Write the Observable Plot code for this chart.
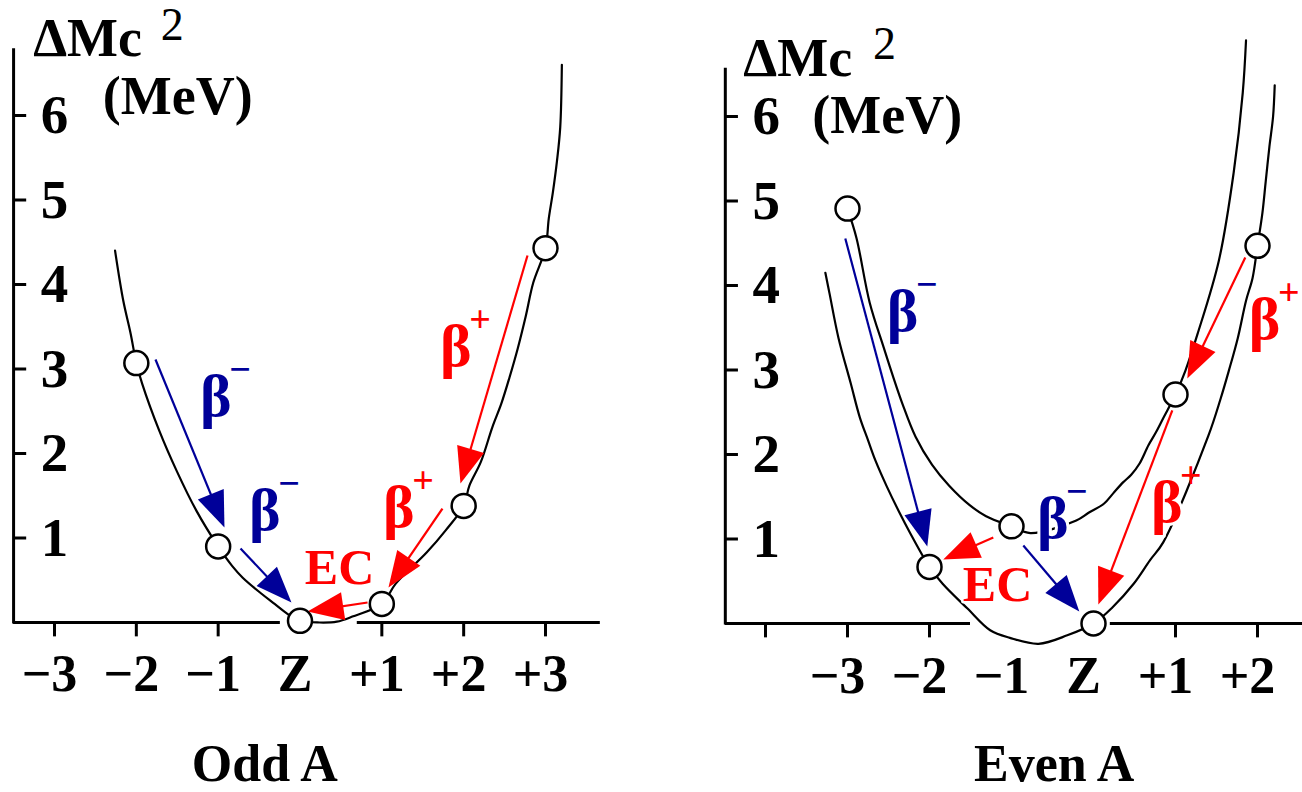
<!DOCTYPE html>
<html>
<head>
<meta charset="utf-8">
<script src="https://cdn.jsdelivr.net/npm/d3@7"></script>
<script src="https://cdn.jsdelivr.net/npm/@observablehq/plot@0.6"></script>
<style>
  html, body { margin: 0; padding: 0; background: #fff; }
  #chart { display: flex; width: 1302px; height: 792px; overflow: hidden; background: #fff; }
  #chart svg { display: block; flex: none; max-width: none; }
  g[aria-label="caption"] text { letter-spacing: 4px; }
  g[aria-label="unit"] text { letter-spacing: 3px; }
  g[aria-label="quantity"] text { letter-spacing: 2px; }
  g[aria-label="ec"] text { letter-spacing: -3px; }
</style>
</head>
<body>
<div id="chart"></div>
<script>
// ---------------- data ----------------
const massTicks = [1, 2, 3, 4, 5, 6];

// Odd A
const oddTickZ = [-3, -2, -1, 1, 2, 3];
const oddTickLabelZ = [-3, -2, -1, 0, 1, 2, 3];
const oddTickLabels = ["−3", "−2", "−1", "Z", "+1", "+2", "+3"];
const oddCircleZ = [-2, -1, 0, 1, 2, 3];
const oddCircleM = [3.07, 0.90, 0.02, 0.22, 1.38, 4.43];
const oddCurveZ = [-2.26, -2.16, -2.07, -2.00, -1.93, -1.72, -1.51, -1.27, -1.00, -0.83, -0.70, -0.47, -0.31, -0.15, 0.00, 0.24, 0.45, 0.64, 1.00, 1.17, 1.55, 1.78, 2.00, 2.07, 2.21, 2.35, 2.46, 2.56, 2.66, 2.76, 2.85, 3.00, 3.04, 3.09, 3.14, 3.18, 3.20];
const oddCurveM = [4.40, 3.81, 3.42, 3.07, 2.83, 2.27, 1.80, 1.33, 0.90, 0.67, 0.53, 0.34, 0.22, 0.10, 0.02, 0.00, 0.01, 0.07, 0.22, 0.46, 0.83, 1.09, 1.38, 1.62, 1.90, 2.31, 2.59, 2.90, 3.24, 3.63, 4.02, 4.43, 4.78, 5.09, 5.46, 5.86, 6.60];
const oddArrowType = ["β−", "β−", "EC", "β+", "β+"];
const oddArrowFromZ = [-1.766, -0.727, 0.825, 1.741, 2.780];
const oddArrowFromM = [3.112, 0.876, 0.237, 1.349, 4.343];
const oddArrowToZ = [-0.923, -0.104, 0.092, 1.081, 1.961];
const oddArrowToM = [1.124, 0.237, 0.130, 0.414, 1.645];
const oddLabelType = ["β−", "β−", "β+", "β+", "EC"];
const oddLabelZ = [-1.222, -0.623, 1.014, 1.711, 0.483];
const oddLabelM = [2.67, 1.32, 1.36, 3.26, 0.45];

// Even A
const evenTickZ = [-4, -3, -2, 1, 2];
const evenTickLabelZ = [-3, -2, -1, 0, 1, 2];
const evenTickLabels = ["−3", "−2", "−1", "Z", "+1", "+2"];
const evenEvenCircleZ = [-2, 0, 2];
const evenEvenCircleM = [0.67, 0.00, 4.47];
const oddOddCircleZ = [-3, -1, 1];
const oddOddCircleM = [4.91, 1.15, 2.71];
const evenEvenCurveZ = [-3.27, -3.22, -3.11, -2.96, -2.85, -2.75, -2.66, -2.52, -2.37, -2.23, -2.00, -1.84, -1.54, -1.26, -1.02, -0.67, -0.32, 0.00, 0.23, 0.49, 0.69, 0.85, 1.40, 1.55, 1.65, 1.76, 1.86, 1.94, 2.00, 2.06, 2.10, 2.145, 2.19, 2.21];
const evenEvenCurveM = [4.15, 3.91, 3.38, 2.84, 2.44, 2.17, 1.93, 1.62, 1.32, 1.06, 0.67, 0.47, 0.18, -0.08, -0.17, -0.24, -0.14, 0.00, 0.19, 0.47, 0.75, 0.96, 2.22, 2.66, 2.99, 3.38, 3.82, 4.09, 4.47, 4.86, 5.23, 5.64, 6.00, 6.37];
const oddOddCurveZ = [-3.00, -2.89, -2.73, -2.56, -2.45, -2.33, -2.17, -1.97, -1.76, -1.51, -1.31, -1.00, -0.77, -0.21, -0.06, 0.13, 0.24, 0.36, 0.46, 0.56, 0.67, 0.76, 0.85, 1.00, 1.12, 1.27, 1.53, 1.71, 1.82, 1.86];
const oddOddCurveM = [4.91, 4.56, 3.80, 3.27, 2.94, 2.60, 2.21, 1.88, 1.63, 1.40, 1.27, 1.15, 1.07, 1.22, 1.31, 1.42, 1.54, 1.67, 1.76, 1.89, 2.11, 2.26, 2.43, 2.71, 2.99, 3.43, 4.30, 5.34, 6.28, 6.90];
const evenArrowType = ["β−", "β−", "EC", "β+", "β+"];
const evenArrowFromZ = [-3.027, -0.856, -1.222, 1.851, 0.961];
const evenArrowFromM = [4.556, 0.923, 1.018, 4.331, 2.521];
const evenArrowToZ = [-2.027, -0.173, -1.832, 1.144, 0.059];
const evenArrowToM = [0.911, 0.142, 0.757, 2.899, 0.225];
const evenLabelType = ["β−", "β−", "β+", "β+", "EC"];
const evenLabelZ = [-2.52, -0.69, 1.893, 0.70, -1.17];
const evenLabelM = [3.69, 1.24, 3.59, 1.43, 0.27];

// ---------------- styling ----------------
const SERIF = "'Liberation Serif', 'DejaVu Serif', 'Times New Roman', serif";
const BLUE = "#000099", RED = "#ff0000";
const decayColor = {"β−": BLUE, "β+": RED, "EC": RED};
const HEAD_L = 36, HEAD_W = 28;
const HEAD = {
  draw(ctx) {
    ctx.moveTo(0, 0);
    ctx.lineTo(-HEAD_W / 2, HEAD_L);
    ctx.lineTo(HEAD_W / 2, HEAD_L);
    ctx.closePath();
  }
};

function buildPanel(cfg) {
  const W = 651, H = 792;
  const sx = d3.scaleLinear(cfg.xDomain, [cfg.ml, W - cfg.mr]);
  const sy = d3.scaleLinear([0, 6], [H - cfg.mb, cfg.mt]);
  const arrows = cfg.arrowType.map((t, i) => {
    const z1 = cfg.arrowFromZ[i], m1 = cfg.arrowFromM[i], z2 = cfg.arrowToZ[i], m2 = cfg.arrowToM[i];
    const px1 = sx(z1), py1 = sy(m1), px2 = sx(z2), py2 = sy(m2);
    const len = Math.hypot(px2 - px1, py2 - py1);
    const ux = (px2 - px1) / len, uy = (py2 - py1) / len;
    return {
      z1, m1, z2, m2,
      lz2: sx.invert(px2 - ux * HEAD_L * 0.5), lm2: sy.invert(py2 - uy * HEAD_L * 0.5),
      angle: Math.atan2(ux, -uy) * 180 / Math.PI,
      col: decayColor[t]
    };
  });
  const circles = cfg.circles.flatMap(c => c.z.map((z, i) => ({z, m: c.m[i]})));
  const curves = cfg.curves.map(c => c.z.map((z, i) => ({z, m: c.m[i]})));
  const labels = cfg.labelType.map((t, i) => ({t, z: cfg.labelZ[i], m: cfg.labelM[i], col: decayColor[t]}));
  const betas = labels.filter(d => d.t !== "EC");
  const ecs = labels.filter(d => d.t === "EC");
  const ticks = cfg.tickLabelZ.map((z, i) => ({z, label: cfg.tickLabels[i]}));
  const txt = {fontFamily: SERIF, fontWeight: "bold"};

  return Plot.plot({
    width: W, height: H,
    marginLeft: cfg.ml, marginRight: cfg.mr, marginTop: cfg.mt, marginBottom: cfg.mb,
    x: {domain: cfg.xDomain, axis: null},
    y: {domain: [0, 6], axis: null},
    color: {type: "identity"},
    style: {background: "white", overflow: "visible", maxWidth: "none"},
    marks: [
      // axes
      Plot.ruleX([cfg.axisZ], {x: d => d, y1: -0.018, y2: cfg.axisTop, stroke: "black", strokeWidth: 3}),
      Plot.ruleY(cfg.baseSegments, {y: 0, x1: "a", x2: "b", stroke: "black", strokeWidth: 3}),
      Plot.ruleY(massTicks, {y: d => d, x1: cfg.axisZ, x2: cfg.axisZ + 0.16, stroke: "black", strokeWidth: 3}),
      Plot.ruleX(cfg.tickZ, {x: d => d, y1: 0, y2: -0.17, stroke: "black", strokeWidth: 3}),
      Plot.text(massTicks, {x: cfg.axisZ + 0.5, y: d => d, text: d => String(d), fontSize: 55, ...txt, fill: "black", textAnchor: "middle", lineAnchor: "middle"}),
      Plot.text(ticks, {x: "z", y: cfg.tickLabelM, text: "label", dx: cfg.tickDx, fontSize: 52, ...txt, fill: "black", textAnchor: "middle", lineAnchor: "bottom"}),
      // mass parabolas
      ...curves.map(c => Plot.line(c, {x: "z", y: "m", curve: "catmull-rom", stroke: "black", strokeWidth: 2.2})),
      // decay labels
      Plot.text(betas, {x: "z", y: "m", text: () => "β", fill: "col", stroke: "white", strokeWidth: 6, fontSize: 60, ...txt, textAnchor: "start", lineAnchor: "middle"}),
      Plot.text(betas, {x: "z", y: "m", text: d => d.t === "β−" ? "−" : "+", dx: 40, dy: -27, fill: "col", fontSize: 38, ...txt, textAnchor: "middle", lineAnchor: "middle"}),
      Plot.text(ecs, {x: "z", y: "m", text: () => "EC", fill: "col", stroke: "white", strokeWidth: 5, fontSize: 50, ...txt, textAnchor: "middle", lineAnchor: "bottom", ariaLabel: "ec"}),
      // decay arrows
      Plot.link(arrows, {x1: "z1", y1: "m1", x2: "lz2", y2: "lm2", stroke: "col", strokeWidth: 2.2}),
      Plot.dot(arrows, {x: "z2", y: "m2", symbol: HEAD, rotate: "angle", fill: "col"}),
      // nuclei
      Plot.dot(circles, {x: "z", y: "m", r: 12, fill: "white", stroke: "black", strokeWidth: 2.5}),
      // titles
      Plot.text(["ΔMc"], {x: cfg.titleZ, y: cfg.titleM, text: d => d, fontSize: 54, ...txt, fill: "black", textAnchor: "start", lineAnchor: "bottom", ariaLabel: "quantity"}),
      Plot.text(["2"], {x: cfg.supZ, y: cfg.supM, text: d => d, fontSize: 46, fontFamily: SERIF, fill: "black", textAnchor: "middle", lineAnchor: "bottom"}),
      Plot.text(["(MeV)"], {x: cfg.unitZ, y: cfg.unitM, text: d => d, fontSize: 54, ...txt, fill: "black", textAnchor: "start", lineAnchor: "bottom", ariaLabel: "unit"}),
      Plot.text([cfg.caption], {x: cfg.captionZ, y: cfg.captionM, text: d => d, fontSize: 52, ...txt, fill: "black", textAnchor: "middle", lineAnchor: "bottom", ariaLabel: "caption"})
    ]
  });
}

const left = buildPanel({
  xDomain: [-3, 3], ml: 54, mr: 106, mt: 115, mb: 170,
  axisZ: -3.50, axisTop: 6.79,
  baseSegments: [{a: -3.50, b: -0.24}, {a: 0.70, b: 3.67}],
  tickZ: oddTickZ, tickLabelZ: oddTickLabelZ, tickLabels: oddTickLabels, tickLabelM: -0.805, tickDx: -5,
  circles: [{z: oddCircleZ, m: oddCircleM}],
  curves: [{z: oddCurveZ, m: oddCurveM}],
  arrowType: oddArrowType, arrowFromZ: oddArrowFromZ, arrowFromM: oddArrowFromM, arrowToZ: oddArrowToZ, arrowToM: oddArrowToM,
  labelType: oddLabelType, labelZ: oddLabelZ, labelM: oddLabelM,
  titleZ: -3.26, titleM: 6.71, supZ: -1.56, supM: 6.888, unitZ: -2.41, unitM: 6.02,
  caption: "Odd A", captionZ: -0.43, captionM: -1.87
});

const right = buildPanel({
  xDomain: [-4, 2], ml: 114, mr: 45, mt: 116, mb: 169,
  axisZ: -4.49, axisTop: 6.57,
  baseSegments: [{a: -4.49, b: -1.50}, {a: 0.205, b: 2.56}],
  tickZ: evenTickZ, tickLabelZ: evenTickLabelZ, tickLabels: evenTickLabels, tickLabelM: -0.828, tickDx: -10,
  circles: [{z: evenEvenCircleZ, m: evenEvenCircleM}, {z: oddOddCircleZ, m: oddOddCircleM}],
  curves: [{z: evenEvenCurveZ, m: evenEvenCurveM}, {z: oddOddCurveZ, m: oddOddCurveM}],
  arrowType: evenArrowType, arrowFromZ: evenArrowFromZ, arrowFromM: evenArrowFromM, arrowToZ: evenArrowToZ, arrowToM: evenArrowToM,
  labelType: evenLabelType, labelZ: evenLabelZ, labelM: evenLabelM,
  titleZ: -4.27, titleM: 6.485, supZ: -2.55, supM: 6.675, unitZ: -3.43, unitM: 5.81,
  caption: "Even A", captionZ: -0.48, captionM: -1.86
});

document.getElementById("chart").append(left, right);
</script>
</body>
</html>
